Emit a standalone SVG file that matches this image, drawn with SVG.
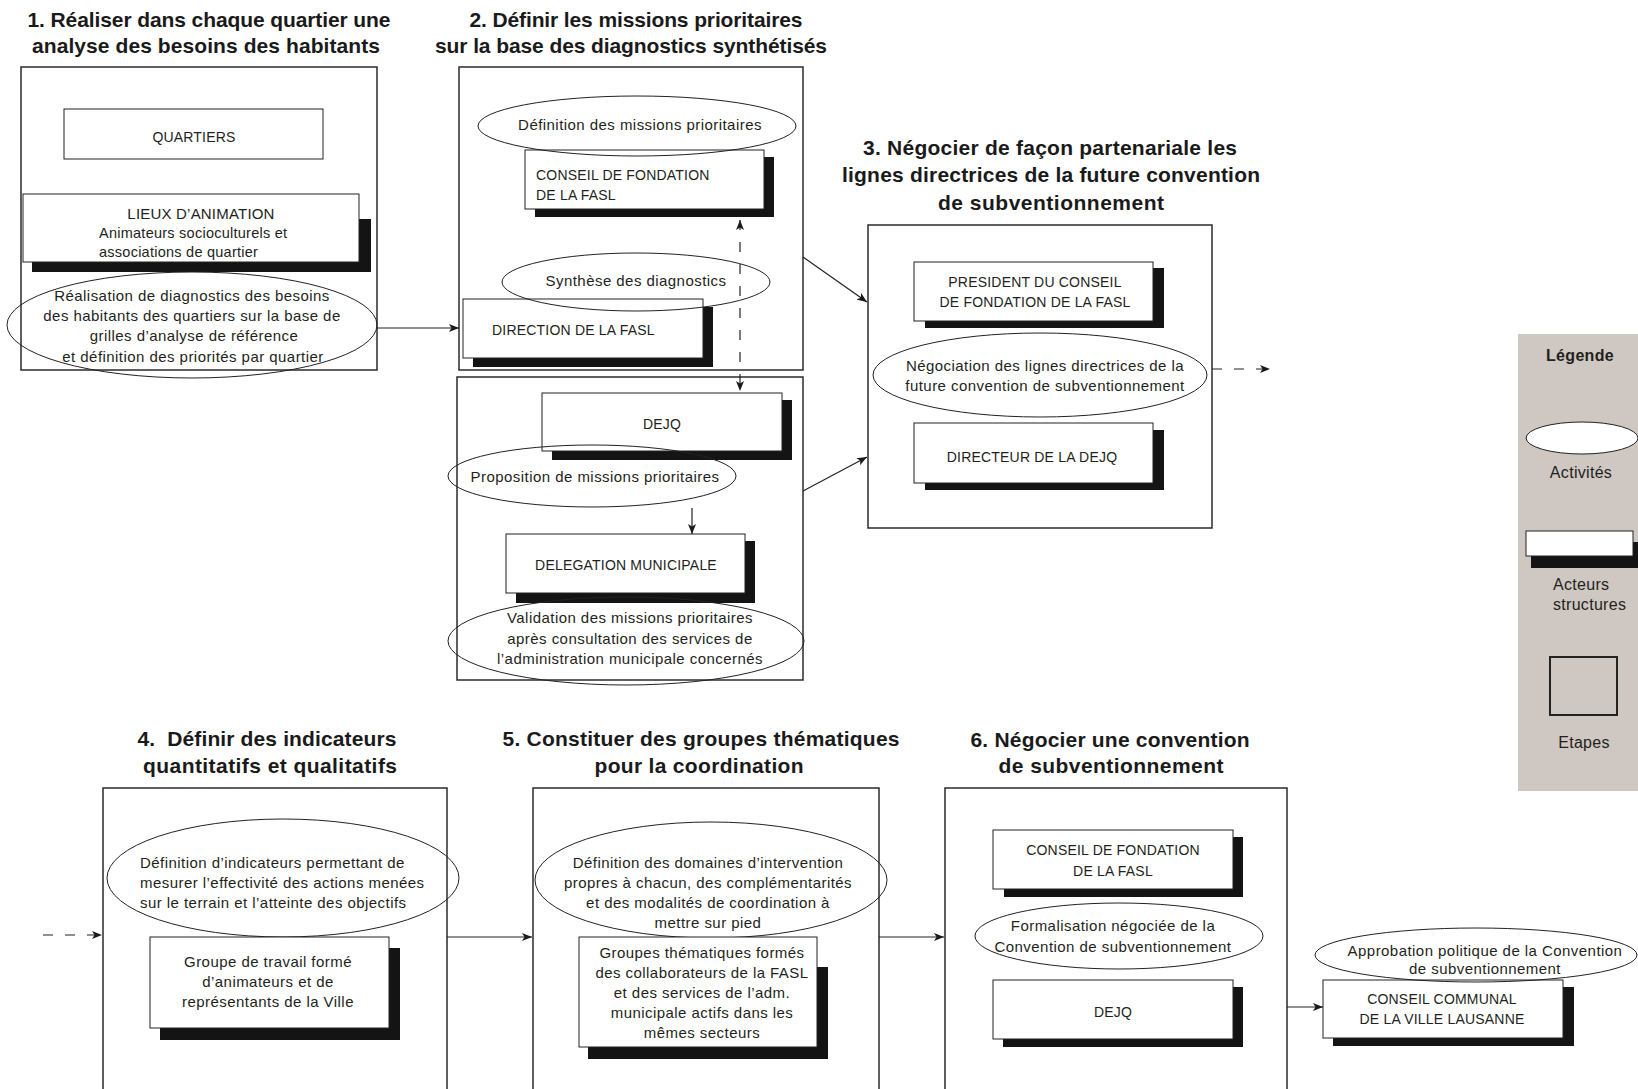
<svg xmlns="http://www.w3.org/2000/svg" width="1638" height="1089" viewBox="0 0 1638 1089">
<defs>
<style>
.step{fill:none;stroke:#2b2b2b;stroke-width:1.5}
.actor{fill:#fff;stroke:#222;stroke-width:1}
.shadow{fill:#141414}
.act{fill:none;stroke:#222;stroke-width:1}
.t{font-family:"Liberation Sans",Arial,sans-serif;font-size:14px;fill:#231f20;letter-spacing:0.2px}
.m{font-size:15px;letter-spacing:0.45px}
.h{font-family:"Liberation Sans",Arial,sans-serif;font-weight:bold;font-size:21px;fill:#1a1a1a;text-anchor:middle}
.c{text-anchor:middle}
.conn{stroke:#222;stroke-width:1.2;fill:none}
.dash{stroke-dasharray:10 12}
.lg{font-family:"Liberation Sans",Arial,sans-serif;font-size:16px;fill:#231f20;letter-spacing:0.3px}
</style>
<marker id="ah" viewBox="0 0 10 8" refX="10" refY="4" markerWidth="10" markerHeight="8" markerUnits="userSpaceOnUse" orient="auto-start-reverse">
<path d="M0,0 L10,4 L0,8 L2.5,4 Z" fill="#1a1a1a"/>
</marker>
</defs>
<rect width="1638" height="1089" fill="#ffffff"/>

<!-- Step 1 -->
<g id="step1">
<text class="h" x="209" y="27" textLength="363">1. Réaliser dans chaque quartier une</text>
<text class="h" x="206" y="53" textLength="348">analyse des besoins des habitants</text>
<rect class="step" x="21" y="67" width="356" height="303"/>
</g>
<g id="quartiers">
<rect class="actor" x="64" y="109" width="259" height="50"/>
<text class="t c" x="194" y="142">QUARTIERS</text>
</g>
<g id="lieux">
<rect class="shadow" x="32" y="219" width="339" height="53"/>
<rect class="actor" x="23" y="194" width="336" height="68"/>
<text class="t c" x="201" y="219" style="font-size:15px">LIEUX D’ANIMATION</text>
<text class="t" x="99" y="238" style="font-size:14.5px;letter-spacing:0.25px">Animateurs socioculturels et</text>
<text class="t" x="99" y="257" style="font-size:14.5px;letter-spacing:0.25px">associations de quartier</text>
</g>
<g id="act-diagnostics">
<ellipse class="act" cx="192" cy="325" rx="185" ry="53"/>
<text class="t m c" x="192" y="301">Réalisation de diagnostics des besoins</text>
<text class="t m c" x="192" y="321">des habitants des quartiers sur la base de</text>
<text class="t m c" x="194" y="341">grilles d’analyse de référence</text>
<text class="t m c" x="193" y="362">et définition des priorités par quartier</text>
</g>

<!-- Step 2 -->
<g id="step2">
<text class="h" x="636" y="27" textLength="333">2. Définir les missions prioritaires</text>
<text class="h" x="631" y="53" textLength="392">sur la base des diagnostics synthétisés</text>
<rect class="step" x="459" y="67" width="344" height="303"/>
<rect class="step" x="457" y="377" width="346" height="303"/>
</g>
<g id="conseil-fasl-2">
<rect class="shadow" x="535" y="157" width="239" height="60"/>
<rect class="actor" x="525" y="150" width="239" height="59"/>
<text class="t" x="536" y="180">CONSEIL DE FONDATION</text>
<text class="t" x="536" y="200">DE LA FASL</text>
</g>
<g id="act-definition-missions">
<ellipse class="act" cx="637" cy="126" rx="159" ry="30"/>
<text class="t m c" x="640" y="130">Définition des missions prioritaires</text>
</g>
<g id="direction-fasl">
<rect class="shadow" x="473" y="307" width="240" height="60"/>
<rect class="actor" x="463" y="299" width="240" height="59"/>
<text class="t" x="492" y="335">DIRECTION DE LA FASL</text>
</g>
<g id="act-synthese">
<ellipse class="act" cx="636" cy="282" rx="134" ry="29"/>
<text class="t m c" x="636" y="286">Synthèse des diagnostics</text>
</g>
<g id="dejq-2">
<rect class="shadow" x="552" y="400" width="240" height="60"/>
<rect class="actor" x="542" y="393" width="240" height="58"/>
<text class="t c" x="662" y="429">DEJQ</text>
</g>
<g id="act-proposition">
<ellipse class="act" cx="592" cy="476" rx="144" ry="31"/>
<text class="t m c" x="595" y="482">Proposition de missions prioritaires</text>
</g>
<g id="delegation">
<rect class="shadow" x="516" y="541" width="239" height="62"/>
<rect class="actor" x="506" y="534" width="239" height="59"/>
<text class="t c" x="626" y="570">DELEGATION MUNICIPALE</text>
</g>
<g id="act-validation">
<ellipse class="act" cx="626" cy="641" rx="178" ry="44"/>
<text class="t m c" x="630" y="623">Validation des missions prioritaires</text>
<text class="t m c" x="630" y="644">après consultation des services de</text>
<text class="t m c" x="630" y="664">l’administration municipale concernés</text>
</g>

<!-- Step 3 -->
<g id="step3">
<text class="h" x="1050" y="155" textLength="374">3. Négocier de façon partenariale les</text>
<text class="h" x="1051" y="182" textLength="418">lignes directrices de la future convention</text>
<text class="h" x="1051" y="210" textLength="226">de subventionnement</text>
<rect class="step" x="868" y="225" width="344" height="303"/>
</g>
<g id="president">
<rect class="shadow" x="925" y="268" width="239" height="60"/>
<rect class="actor" x="914" y="262" width="239" height="59"/>
<text class="t c" x="1035" y="287">PRESIDENT DU CONSEIL</text>
<text class="t c" x="1035" y="307">DE FONDATION DE LA FASL</text>
</g>
<g id="act-negociation">
<ellipse class="act" cx="1040" cy="375" rx="167" ry="42"/>
<text class="t m c" x="1045" y="371">Négociation des lignes directrices de la</text>
<text class="t m c" x="1045" y="391">future convention de subventionnement</text>
</g>
<g id="directeur-dejq">
<rect class="shadow" x="925" y="430" width="239" height="60"/>
<rect class="actor" x="914" y="423" width="239" height="60"/>
<text class="t c" x="1032" y="462">DIRECTEUR DE LA DEJQ</text>
</g>

<!-- Step 4 -->
<g id="step4">
<text class="h" x="267" y="746" textLength="259" xml:space="preserve">4.  Définir des indicateurs</text>
<text class="h" x="270" y="773" textLength="254">quantitatifs et qualitatifs</text>
<rect class="step" x="103" y="788" width="344" height="330"/>
</g>
<g id="act-indicateurs">
<ellipse class="act" cx="283" cy="878" rx="176" ry="59"/>
<text class="t m" x="140" y="868">Définition d’indicateurs permettant de</text>
<text class="t m" x="140" y="888">mesurer l’effectivité des actions menées</text>
<text class="t m" x="140" y="908">sur le terrain et l’atteinte des objectifs</text>
</g>
<g id="groupe-travail">
<rect class="shadow" x="160" y="948" width="240" height="92"/>
<rect class="actor" x="150" y="937" width="239" height="91"/>
<text class="t m c" x="268" y="967">Groupe de travail formé</text>
<text class="t m c" x="268" y="987">d’animateurs et de</text>
<text class="t m c" x="268" y="1007">représentants de la Ville</text>
</g>

<!-- Step 5 -->
<g id="step5">
<text class="h" x="701" y="746" textLength="397">5. Constituer des groupes thématiques</text>
<text class="h" x="699" y="773" textLength="209">pour la coordination</text>
<rect class="step" x="533" y="788" width="346" height="330"/>
</g>
<g id="act-domaines">
<ellipse class="act" cx="711" cy="880" rx="176" ry="58"/>
<text class="t m c" x="708" y="868">Définition des domaines d’intervention</text>
<text class="t m c" x="708" y="888">propres à chacun, des complémentarités</text>
<text class="t m c" x="708" y="908">et des modalités de coordination à</text>
<text class="t m c" x="708" y="928">mettre sur pied</text>
</g>
<g id="groupes-thematiques">
<rect class="shadow" x="588" y="967" width="240" height="92"/>
<rect class="actor" x="579" y="937" width="238" height="110"/>
<text class="t m c" x="702" y="958">Groupes thématiques formés</text>
<text class="t m c" x="702" y="978">des collaborateurs de la FASL</text>
<text class="t m c" x="702" y="998">et des services de l’adm.</text>
<text class="t m c" x="702" y="1018">municipale actifs dans les</text>
<text class="t m c" x="702" y="1038">mêmes secteurs</text>
</g>

<!-- Step 6 -->
<g id="step6">
<text class="h" x="1110" y="747" textLength="279">6. Négocier une convention</text>
<text class="h" x="1111" y="773" textLength="225">de subventionnement</text>
<rect class="step" x="945" y="788" width="342" height="330"/>
</g>
<g id="conseil-fasl-6">
<rect class="shadow" x="1004" y="837" width="239" height="60"/>
<rect class="actor" x="993" y="830" width="240" height="59"/>
<text class="t c" x="1113" y="855">CONSEIL DE FONDATION</text>
<text class="t c" x="1113" y="876">DE LA FASL</text>
</g>
<g id="act-formalisation">
<ellipse class="act" cx="1119" cy="936" rx="144" ry="33"/>
<text class="t m c" x="1113" y="931">Formalisation négociée de la</text>
<text class="t m c" x="1113" y="952">Convention de subventionnement</text>
</g>
<g id="dejq-6">
<rect class="shadow" x="1003" y="987" width="240" height="60"/>
<rect class="actor" x="993" y="980" width="240" height="59"/>
<text class="t c" x="1113" y="1017">DEJQ</text>
</g>

<!-- Final -->
<g id="conseil-communal">
<rect class="shadow" x="1333" y="987" width="241" height="59"/>
<rect class="actor" x="1323" y="980" width="240" height="58"/>
<text class="t c" x="1442" y="1004">CONSEIL COMMUNAL</text>
<text class="t c" x="1442" y="1024">DE LA VILLE LAUSANNE</text>
</g>
<g id="act-approbation">
<ellipse class="act" cx="1476" cy="955" rx="161" ry="27"/>
<text class="t m c" x="1485" y="956">Approbation politique de la Convention</text>
<text class="t m c" x="1485" y="974">de subventionnement</text>
</g>

<!-- Connectors -->
<g id="connectors">
<line class="conn" x1="377" y1="328" x2="459" y2="328" marker-end="url(#ah)"/>
<line class="conn" x1="803" y1="257" x2="867" y2="302" marker-end="url(#ah)"/>
<line class="conn" x1="803" y1="491" x2="867" y2="457" marker-end="url(#ah)"/>
<line class="conn dash" x1="740" y1="220" x2="740" y2="391" marker-start="url(#ah)" marker-end="url(#ah)"/>
<line class="conn" x1="692" y1="508" x2="692" y2="534" marker-end="url(#ah)"/>
<line class="conn dash" x1="1212" y1="369" x2="1270" y2="369" marker-end="url(#ah)"/>
<line class="conn dash" x1="43" y1="935" x2="102" y2="935" marker-end="url(#ah)"/>
<line class="conn" x1="447" y1="937" x2="532" y2="937" marker-end="url(#ah)"/>
<line class="conn" x1="879" y1="937" x2="944" y2="937" marker-end="url(#ah)"/>
<line class="conn" x1="1287" y1="1007" x2="1323" y2="1007" marker-end="url(#ah)"/>
</g>

<!-- Legend -->
<g id="legend">
<rect x="1518" y="334" width="120" height="457" fill="#cfc8c2"/>
<text class="lg c" x="1580" y="361" font-weight="bold">Légende</text>
<ellipse cx="1582" cy="438" rx="56" ry="16" fill="#fff" stroke="#222" stroke-width="1"/>
<text class="lg c" x="1581" y="478">Activités</text>
<rect class="shadow" x="1531" y="542" width="110" height="26"/>
<rect class="actor" x="1526" y="531" width="107" height="25"/>
<text class="lg" x="1553" y="590">Acteurs</text>
<text class="lg" x="1553" y="610">structures</text>
<rect x="1550" y="657" width="67" height="58" fill="none" stroke="#222" stroke-width="2"/>
<text class="lg c" x="1584" y="748">Etapes</text>
</g>
</svg>
